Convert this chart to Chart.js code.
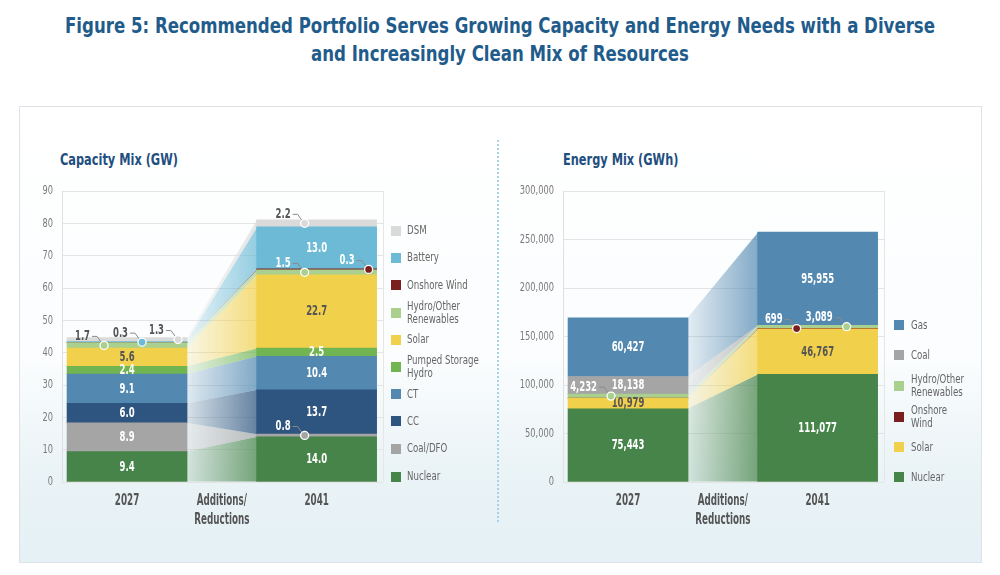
<!DOCTYPE html>
<html><head><meta charset="utf-8">
<script src="https://cdn.jsdelivr.net/npm/chart.js@4.4.1/dist/chart.umd.min.js"></script>
<style>
html,body{margin:0;padding:0;width:1000px;height:575px;overflow:hidden;background:#fff;font-family:"Liberation Sans Narrow","DejaVu Sans Condensed",Roboto,sans-serif;}
#title{position:absolute;left:0;top:12px;width:1000px;text-align:center;color:#1f5c8b;font-weight:bold;font-size:20.5px;line-height:28px;white-space:nowrap;transform:scaleX(0.9);transform-origin:500px 0;}
#panel{position:absolute;left:19px;top:106px;width:961px;height:455px;border:1px solid #dde3e6;background:linear-gradient(180deg,#ffffff 0%,#fbfdfe 55%,#eaf3f6 80%,#e5f1f5 100%);}
#divider{position:absolute;left:497px;top:140px;height:382px;border-left:2px dotted #a8d2e5;}
.sub{position:absolute;top:150px;color:#1f4f7f;font-weight:bold;font-size:16.5px;line-height:20px;white-space:nowrap;transform:scaleX(0.765);transform-origin:0 0;}
canvas{position:absolute;top:0;}
.leg{position:absolute;font-size:12px;color:#666;line-height:12.7px;white-space:nowrap;transform:scaleX(0.8);transform-origin:0 0;}
.sw{position:absolute;width:10px;height:10px;}
</style></head>
<body>
<div id="title">Figure 5: Recommended Portfolio Serves Growing Capacity and Energy Needs with a Diverse<br>and Increasingly Clean Mix of Resources</div>
<div id="panel"></div>
<div id="divider"></div>
<div class="sub" style="left:60px">Capacity Mix (GW)</div>
<div class="sub" style="left:563px">Energy Mix (GWh)</div>
<canvas id="cap" width="500" height="575" style="left:0px"></canvas>
<canvas id="eng" width="500" height="575" style="left:501px"></canvas>
<div id="legends"></div>
<script>
// ---------- DATA ----------
const categories = ['2027', ['Additions/', 'Reductions'], '2041'];

const capSeries = ['Nuclear', 'Coal/DFO', 'CC', 'CT', 'Pumped Storage Hydro', 'Solar', 'Hydro/Other Renewables', 'Onshore Wind', 'Battery', 'DSM'];
const cap2027 = [9.4, 8.9, 6.0, 9.1, 2.4, 5.6, 1.7, 0, 0.3, 1.3];
const cap2041 = [14.0, 0.8, 13.7, 10.4, 2.5, 22.7, 1.5, 0.3, 13.0, 2.2];

const engSeries = ['Nuclear', 'Solar', 'Onshore Wind', 'Hydro/Other Renewables', 'Coal', 'Gas'];
const eng2027 = [75443, 10979, 0, 4232, 18138, 60427];
const eng2041 = [111077, 46767, 699, 3089, 0, 95955];

// ---------- STYLE ----------
const colors = {
  'Nuclear': '#478449', 'Coal/DFO': '#a5a5a5', 'Coal': '#a5a5a5', 'CC': '#2e557f', 'CT': '#5389b1',
  'Pumped Storage Hydro': '#70b551', 'Solar': '#f1d04b', 'Hydro/Other Renewables': '#a9d08e',
  'Onshore Wind': '#7b1e1f', 'Battery': '#6cbad5', 'DSM': '#dadada', 'Gas': '#5389b1'
};
const darkText = {'Solar': true};
const FONT = '"Liberation Sans Narrow","DejaVu Sans Condensed",Roboto,sans-serif';

const capCallouts = [
  {s: 'Hydro/Other Renewables', bar: 0, dx: -23, c: '#555'},
  {s: 'Battery', bar: 0, dx: 15, c: '#555'},
  {s: 'DSM', bar: 0, dx: 51, c: '#555'},
  {s: 'DSM', bar: 1, dx: -12, c: '#555'},
  {s: 'Hydro/Other Renewables', bar: 1, dx: -12, c: '#fff'},
  {s: 'Onshore Wind', bar: 1, dx: 52, c: '#fff'},
  {s: 'Coal/DFO', bar: 1, dx: -12, c: '#fff'}
];
const engCallouts = [
  {s: 'Hydro/Other Renewables', bar: 0, dx: -17, c: '#fff'},
  {s: 'Onshore Wind', bar: 1, dx: -21, c: '#fff'},
  {s: 'Hydro/Other Renewables', bar: 1, dx: 29, c: '#fff'}
];

function rgba(hex, a) {
  const n = parseInt(hex.slice(1), 16);
  return `rgba(${(n >> 16) & 255},${(n >> 8) & 255},${n & 255},${a})`;
}
function sText(ctx, txt, x, y, align, sx) {
  ctx.save();
  ctx.translate(x, y);
  ctx.scale(sx, 1);
  ctx.textAlign = align;
  ctx.fillText(txt, 0, 0);
  ctx.restore();
}

function makePlugin(cfg) {
  return {
    id: 'custom_' + cfg.id,
    beforeDatasetsDraw(chart) {
      const ctx = chart.ctx, a = chart.chartArea;
      ctx.save();
      ctx.strokeStyle = '#e6e6e6'; ctx.lineWidth = 1;
      ctx.beginPath(); ctx.moveTo(a.right + 0.5, a.top); ctx.lineTo(a.right + 0.5, a.bottom); ctx.stroke();
      chart.data.datasets.forEach((ds, i) => {
        const m = chart.getDatasetMeta(i);
        const b0 = m.data[0], b1 = m.data[1];
        const xl = b0.x + b0.width / 2, xr = b1.x - b1.width / 2;
        const g = ctx.createLinearGradient(xl, 0, xr, 0);
        g.addColorStop(0, rgba(ds.backgroundColor, 0.14));
        g.addColorStop(1, rgba(ds.backgroundColor, 0.72));
        ctx.beginPath();
        ctx.moveTo(xl - 0.5, b0.y); ctx.lineTo(xr + 0.5, b1.y);
        ctx.lineTo(xr + 0.5, b1.base); ctx.lineTo(xl - 0.5, b0.base);
        ctx.closePath();
        ctx.fillStyle = g; ctx.fill();
      });
      ctx.restore();
    },
    afterDatasetsDraw(chart) {
      const ctx = chart.ctx;
      ctx.save();
      ctx.font = 'bold 13.5px ' + FONT;
      ctx.textBaseline = 'middle';
      const SX = 0.7;
      const isCall = (name, j) => cfg.callouts.some(c => c.s === name && c.bar === j);
      chart.data.datasets.forEach((ds, i) => {
        const m = chart.getDatasetMeta(i);
        [0, 1].forEach(j => {
          const v = ds.data[j].y;
          if (v >= cfg.threshold && !isCall(ds.label, j)) {
            const el = m.data[j];
            ctx.fillStyle = darkText[ds.label] ? '#555' : '#fff';
            sText(ctx, cfg.fmt(v), el.x, (el.y + el.base) / 2 + 0.5, 'center', SX);
          }
        });
      });
      cfg.callouts.forEach(c => {
        const i = chart.data.datasets.findIndex(d => d.label === c.s);
        const el = chart.getDatasetMeta(i).data[c.bar];
        const v = chart.data.datasets[i].data[c.bar].y;
        const cx = el.x + c.dx, cy = (el.y + el.base) / 2;
        const tx = cx - 14, ty = cy - 9;
        ctx.strokeStyle = '#8a8a8a'; ctx.lineWidth = 1;
        ctx.beginPath(); ctx.moveTo(tx + 2, ty); ctx.lineTo(tx + 7, ty); ctx.lineTo(cx - 2, cy - 2); ctx.stroke();
        ctx.beginPath(); ctx.arc(cx, cy, 4, 0, Math.PI * 2);
        ctx.fillStyle = colors[c.s]; ctx.fill();
        ctx.strokeStyle = '#fff'; ctx.lineWidth = 1.3; ctx.stroke();
        ctx.fillStyle = c.c;
        sText(ctx, cfg.fmt(v), tx, ty, 'right', SX);
      });
      ctx.restore();
    },
    afterDraw(chart) {
      const ctx = chart.ctx, a = chart.chartArea;
      const xs = chart.scales.x, ys = chart.scales.y;
      ctx.save();
      ctx.textBaseline = 'middle';
      ctx.font = '11.5px ' + FONT;
      ctx.fillStyle = '#7a7a7a';
      ys.ticks.forEach(t => {
        sText(ctx, cfg.tickFmt(t.value), a.left - 9, ys.getPixelForValue(t.value) + 0.5, 'right', 0.8);
      });
      ctx.font = 'bold 15px ' + FONT;
      ctx.fillStyle = '#555';
      xs.ticks.forEach(t => {
        const lab = categories[t.value];
        const lines = Array.isArray(lab) ? lab : [lab];
        lines.forEach((ln, k) => {
          sText(ctx, ln, xs.getPixelForValue(t.value), a.bottom + 19.5 + k * 19, 'center', 0.65);
        });
      });
      ctx.restore();
    }
  };
}

function buildChart(id, series, v27, v41, cfg) {
  const datasets = series.map((name, i) => ({
    label: name,
    data: [{x: 0, y: v27[i]}, {x: 2, y: v41[i]}],
    backgroundColor: colors[name],
    borderWidth: 0,
    barThickness: 120
  }));
  return new Chart(document.getElementById(id), {
    type: 'bar',
    data: {datasets},
    options: {
      responsive: false, animation: false, devicePixelRatio: 1,
      layout: {padding: {top: 191, right: 117, left: 0, bottom: 0}},
      plugins: {legend: {display: false}, tooltip: {enabled: false}},
      scales: {
        x: {
          type: 'linear', min: -0.686, max: 2.70, offset: false, stacked: true,
          afterBuildTicks(s) { s.ticks = [0, 1, 2].map(v => ({value: v})); },
          afterFit(s) { s.height = 93; },
          grid: {display: false}, border: {display: false},
          ticks: {display: false}
        },
        y: {
          stacked: true, min: 0, max: cfg.max,
          afterFit(s) { s.width = 62; },
          grid: {color: '#e4e4e4', drawTicks: false},
          border: {color: '#e0e0e0'},
          ticks: {display: false, stepSize: cfg.step}
        }
      }
    },
    plugins: [makePlugin(cfg)]
  });
}

buildChart('cap', capSeries, cap2027, cap2041, {
  id: 'cap', max: 90, step: 10, threshold: 2.3, callouts: capCallouts,
  fmt: v => v.toFixed(1), tickFmt: v => String(v)
});
buildChart('eng', engSeries, eng2027, eng2041, {
  id: 'eng', max: 300000, step: 50000, threshold: 5000, callouts: engCallouts,
  fmt: v => v.toLocaleString('en-US'), tickFmt: v => v.toLocaleString('en-US')
});

// ---------- LEGENDS ----------
const capLegendY = [230.7, 257.7, 285, 312.5, 339.5, 366.8, 394.3, 421, 448.7, 476.7];
const engLegendY = [325, 355, 386, 417, 447, 477];
const wraps = {'Hydro/Other Renewables': ['Hydro/Other', 'Renewables'], 'Pumped Storage Hydro': ['Pumped Storage', 'Hydro'], 'Onshore Wind': ['Onshore', 'Wind']};
function legend(series, ys, sx, tx, wrapSet) {
  const host = document.getElementById('legends');
  series.slice().reverse().forEach((name, k) => {
    const cy = ys[k];
    const sw = document.createElement('div');
    sw.className = 'sw';
    sw.style.left = sx + 'px'; sw.style.top = (cy - 5) + 'px'; sw.style.background = colors[name];
    host.appendChild(sw);
    const lines = wrapSet.includes(name) ? wraps[name] : [name];
    const t = document.createElement('div');
    t.className = 'leg';
    t.innerHTML = lines.join('<br>');
    t.style.left = tx + 'px';
    t.style.top = (cy - 6.35 * lines.length) + 'px';
    host.appendChild(t);
  });
}
legend(capSeries, capLegendY, 391, 407, ['Hydro/Other Renewables', 'Pumped Storage Hydro']);
legend(engSeries, engLegendY, 894, 911, ['Hydro/Other Renewables', 'Onshore Wind']);
</script>
</body></html>
